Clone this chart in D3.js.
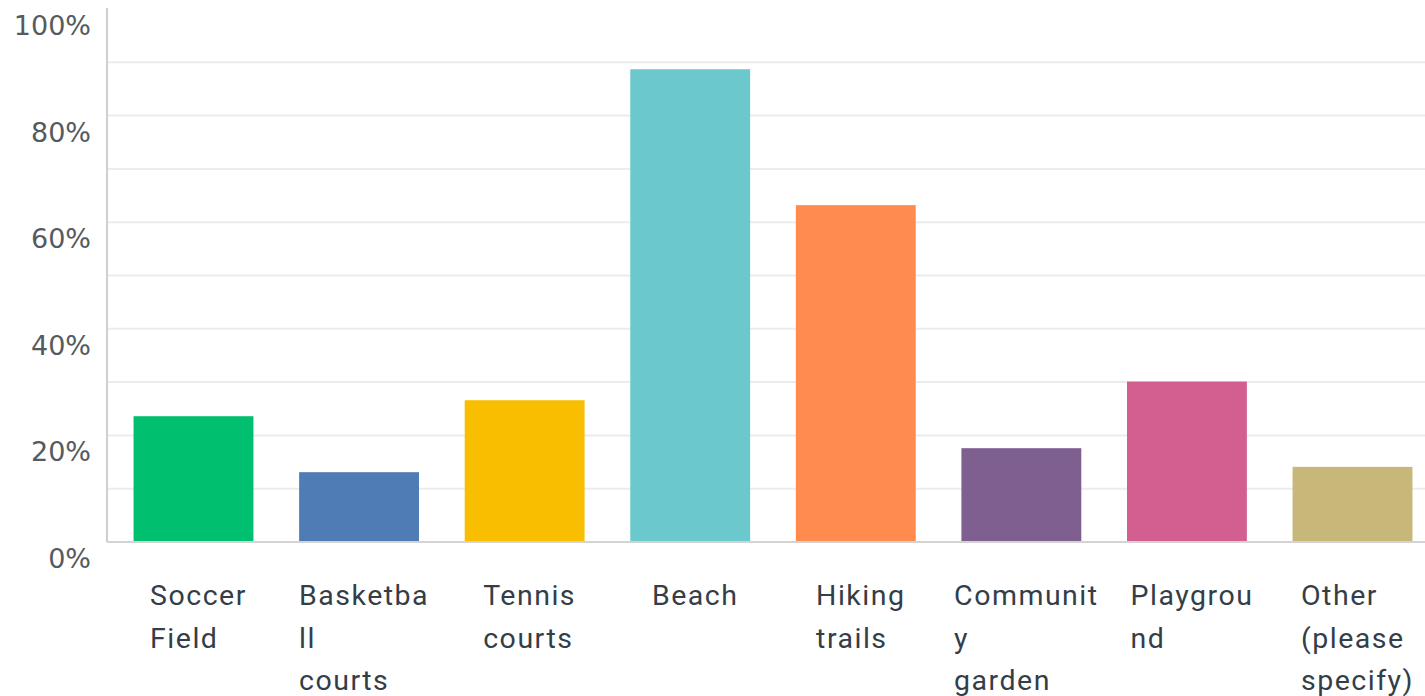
<!DOCTYPE html>
<html>
<head>
<meta charset="utf-8">
<script src="https://cdn.jsdelivr.net/npm/d3@7"></script>
<style>
  html, body { margin: 0; padding: 0; background: #fff; overflow: hidden; }
  svg { display: block; }
</style>
</head>
<body>
<svg id="chart" width="1425" height="696"></svg>
<script>
// answer choices and their share of responses
const categories = ['Soccer Field', 'Basketball courts', 'Tennis courts', 'Beach',
  'Hiking trails', 'Community garden', 'Playground', 'Other (please specify)'];
const values = [0.236, 0.131, 0.266, 0.887, 0.632, 0.176, 0.301, 0.141];
// labels wrap the way the survey tool broke them
const labelLines = [
  ['Soccer', 'Field'],
  ['Basketba', 'll', 'courts'],
  ['Tennis', 'courts'],
  ['Beach'],
  ['Hiking', 'trails'],
  ['Communit', 'y', 'garden'],
  ['Playgrou', 'nd'],
  ['Other', '(please', 'specify)']
];
const colors = ['#00bf6f', '#507cb6', '#f9be00', '#6bc8cd', '#ff8b4f', '#7f5e90', '#d25f90', '#c7b879'];
const yTicks = [0, 0.2, 0.4, 0.6, 0.8, 1];
const gridTicks = [0.1, 0.2, 0.3, 0.4, 0.5, 0.6, 0.7, 0.8, 0.9];

const svg = d3.select('#chart');
const x0 = 107, x1 = 1425;

const x = d3.scaleBand()
  .domain(categories)
  .range([117, 1429])
  .paddingInner(0.276)
  .paddingOuter(0.1);

const y = d3.scaleLinear().domain([0, 1]).range([542, 9]);

// grid
svg.append('g')
  .selectAll('line')
  .data(gridTicks)
  .join('line')
  .attr('x1', x0).attr('x2', x1)
  .attr('y1', d => y(d)).attr('y2', d => y(d))
  .attr('stroke', '#ececec')
  .attr('stroke-width', 2);

// y tick labels (sit below their line)
svg.append('g')
  .selectAll('text')
  .data(yTicks)
  .join('text')
  .attr('x', 91)
  .attr('y', d => y(d) + 26)
  .attr('text-anchor', 'end')
  .attr('font-family', 'DejaVu Sans, sans-serif')
  .attr('font-size', 27)
  .attr('fill', '#555a60')
  .text(d3.format('.0%'));

// bars
svg.append('g')
  .selectAll('rect')
  .data(categories)
  .join('rect')
  .attr('x', d => x(d))
  .attr('y', (d, i) => y(values[i]))
  .attr('width', x.bandwidth())
  .attr('height', (d, i) => y(0) - y(values[i]))
  .attr('fill', (d, i) => colors[i]);

// axes lines
svg.append('line')
  .attr('x1', x0).attr('x2', x0)
  .attr('y1', 8).attr('y2', y(0))
  .attr('stroke', '#cfcfcf').attr('stroke-width', 2);
svg.append('line')
  .attr('x1', x0).attr('x2', x1)
  .attr('y1', y(0)).attr('y2', y(0))
  .attr('stroke', '#d3d3d3').attr('stroke-width', 2);

// category labels, left-aligned block centred under each bar
const labels = svg.append('g')
  .selectAll('text')
  .data(categories)
  .join('text')
  .attr('font-family', 'Roboto, sans-serif')
  .attr('font-size', 28.5)
  .attr('letter-spacing', 1.5)
  .attr('fill', '#333e48');

labels.each(function (d, i) {
  const t = d3.select(this);
  labelLines[i].forEach((line, k) => {
    t.append('tspan').attr('y', 605 + k * 42.5).text(line);
  });
  let w = 0;
  t.selectAll('tspan').each(function () { w = Math.max(w, this.getComputedTextLength()); });
  const left = x(d) + x.bandwidth() / 2 - w / 2 + 5;
  t.selectAll('tspan').attr('x', left);
});
</script>
</body>
</html>
